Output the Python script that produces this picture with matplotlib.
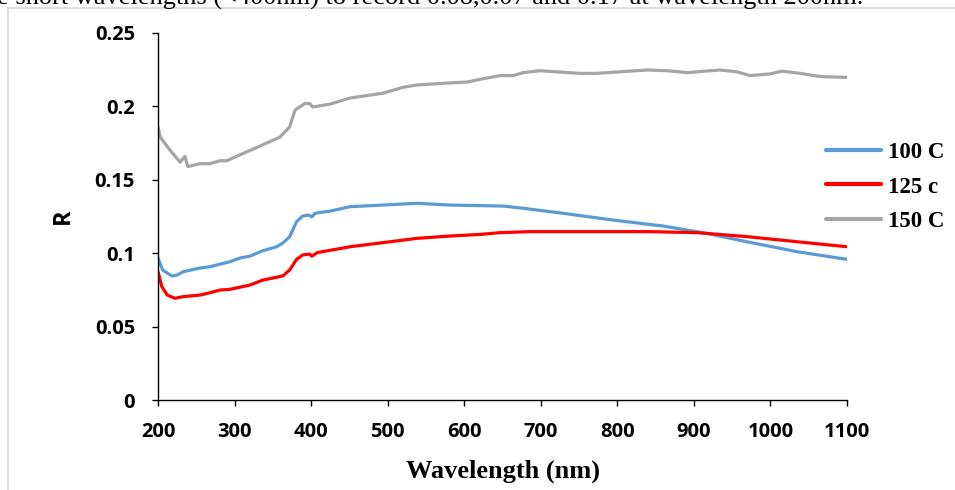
import matplotlib

matplotlib.use("Agg")
import matplotlib.pyplot as plt
from matplotlib.lines import Line2D

# values (wavelength in nm, reflectance R)
wl_150 = [200, 203, 216, 229, 235, 239, 255, 268, 281, 290, 307, 329, 346, 359,
          372, 379, 392, 398, 402, 425, 451, 494, 520, 538, 581, 604, 621, 647,
          664, 677, 699, 751, 773, 839, 865, 891, 934, 956, 973, 999, 1015,
          1039, 1056, 1069, 1100]
r_150 = [0.186, 0.179, 0.170, 0.162, 0.166, 0.159, 0.161, 0.161, 0.163, 0.163,
         0.167, 0.172, 0.176, 0.179, 0.186, 0.1975, 0.202, 0.202, 0.1996,
         0.2016, 0.2057, 0.209, 0.213, 0.2146, 0.216, 0.2166, 0.2185, 0.221,
         0.221, 0.223, 0.2243, 0.2225, 0.2225, 0.2248, 0.2243, 0.223, 0.2248,
         0.2236, 0.221, 0.2221, 0.224, 0.2225, 0.221, 0.2202, 0.2198]

wl_100 = [200, 206, 218, 225, 233, 255, 268, 277, 294, 307, 320, 337, 355, 363,
          372, 381, 389, 397, 401, 405, 425, 451, 494, 538, 581, 621, 651, 677,
          729, 794, 860, 917, 969, 1035, 1100]
r_100 = [0.0967, 0.0886, 0.0845, 0.0851, 0.0874, 0.0899, 0.0908, 0.092,
         0.0942, 0.0967, 0.098, 0.1017, 0.1044, 0.1069, 0.1112, 0.1215,
         0.1253, 0.126, 0.1247, 0.1272, 0.1287, 0.1317, 0.1328, 0.134,
         0.1328, 0.1324, 0.1321, 0.1306, 0.1272, 0.1226, 0.1185, 0.1135,
         0.1078, 0.101, 0.0958]

wl_125 = [200, 205, 212, 222, 233, 255, 268, 281, 294, 320, 337, 355, 363, 372,
          381, 389, 398, 401, 408, 451, 494, 538, 581, 621, 647, 686, 751, 839,
          904, 969, 1035, 1100]
r_125 = [0.0874, 0.0772, 0.0715, 0.0693, 0.0704, 0.0715, 0.0731, 0.0749,
         0.0754, 0.0783, 0.0817, 0.0836, 0.0845, 0.0886, 0.0958, 0.0988,
         0.0994, 0.098, 0.1004, 0.1044, 0.1072, 0.1101, 0.1117, 0.1128,
         0.114, 0.1147, 0.1147, 0.1147, 0.114, 0.1113, 0.1078, 0.1044]

series = [("100 C", wl_100, r_100, "#5B9BD5"),
          ("125 c", wl_125, r_125, "#FF0000"),
          ("150 C", wl_150, r_150, "#A5A5A5")]

x_ticks = list(range(200, 1101, 100))
y_ticks = [0, 0.05, 0.1, 0.15, 0.2, 0.25]
y_labels = ["0", "0.05", "0.1", "0.15", "0.2", "0.25"]

fig = plt.figure(figsize=(9.55, 4.9), dpi=100)
ax = fig.add_axes([158 / 955, 1 - 400 / 490, 689 / 955, 367 / 490])

for name, x, y, color in series:
    ax.plot(x, y, color=color, lw=2.3, label=name, solid_capstyle="round",
            solid_joinstyle="round")

ax.set_xlim(200, 1100)
ax.set_ylim(0, 0.25)
ax.set_xticks(x_ticks)
ax.set_yticks(y_ticks)
ax.set_yticklabels(y_labels)
for s in ["top", "right"]:
    ax.spines[s].set_visible(False)
for s in ["left", "bottom"]:
    ax.spines[s].set_linewidth(1.0)
ax.tick_params(direction="out", length=4.5, width=1.0)
ax.tick_params(axis="x", pad=11)
ax.tick_params(axis="y", pad=12)
for lab in ax.get_xticklabels() + ax.get_yticklabels():
    lab.set_fontfamily("Open Sans")
    lab.set_fontweight("bold")
    lab.set_fontsize(14.5)

ax.set_xlabel("Wavelength (nm)", fontfamily="Liberation Serif", fontweight="bold",
              fontsize=19, labelpad=13)
ax.set_ylabel("R", fontfamily="Open Sans", fontweight="bold", fontsize=17,
              labelpad=14)

handles = [Line2D([], [], color=c, lw=3, solid_capstyle="round")
           for _, _, _, c in series]
leg = fig.legend(handles, [n for n, _, _, _ in series], loc="center left",
                 bbox_to_anchor=(826 / 955, 1 - 187 / 490), frameon=False,
                 borderaxespad=0, borderpad=0,
                 handlelength=2.4, handletextpad=0.3, labelspacing=0.6,
                 prop={"family": "Liberation Serif", "weight": "bold", "size": 16.5})

# Excel chart frame and cut-off caption above it
fig.add_artist(Line2D([8 / 955, 8 / 955], [0, 1 - 8 / 490], color="#D9D9D9", lw=1.2))
fig.add_artist(Line2D([8 / 955, 1], [1 - 8 / 490, 1 - 8 / 490], color="#D9D9D9", lw=1.2))
fig.text(863 / 955, 1 - 5 / 490,
         "e short wavelengths (<400nm) to record 0.08,0.07 and 0.17 at wavelength 200nm.",
         ha="right", va="baseline", fontfamily="Liberation Serif", fontsize=19)

fig.savefig("out.png", dpi=100)
